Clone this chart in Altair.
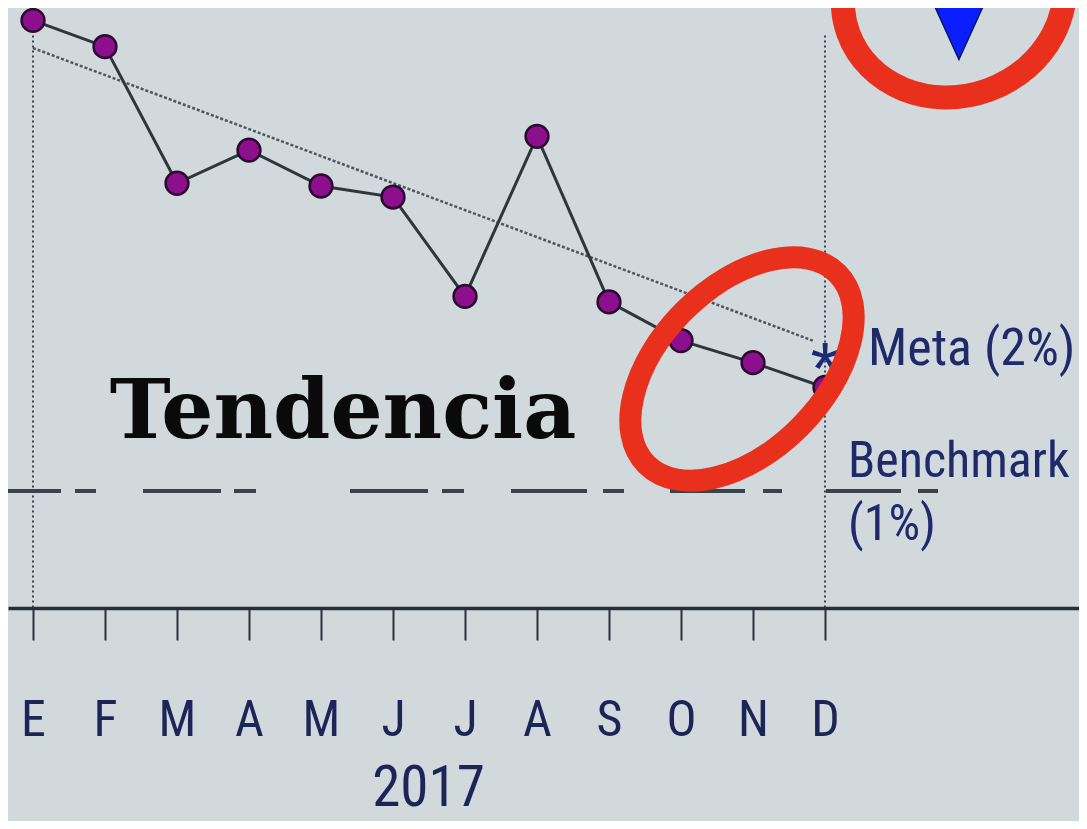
import altair as alt
import pandas as pd

# ---- data ----
months = ["E", "F", "M", "A", "M", "J", "J", "A", "S", "O", "N", "D"]
values = [4.41, 4.22, 3.23, 3.47, 3.21, 3.13, 2.41, 3.57, 2.37, 2.09, 1.93, 1.75]
year = "2017"
trend_x = [0, 10.83]
trend_y = [4.21, 2.09]
meta_value = 2.0
benchmark_value = 1.0
meta_label = "Meta (2%)"
benchmark_label = ["Benchmark", "(1%)"]
annotation_text = "Tendencia"

idx = list(range(len(months)))

# ---- layout / scale settings ----
W, H = 1071, 600
X_DOMAIN = [-25 / 72, (1071 - 25) / 72]
Y_DOMAIN = [0.152, 4.5]
FONT = "Liberation Sans Narrow, Roboto Condensed, DejaVu Sans Condensed, Liberation Sans"
NAVY = "#1d2557"
BG = "#d1d9dd"
RED = "#e8301c"
BENCH_DASH = [53, 14, 21, 47, 78, 13, 22, 94, 78, 14, 22, 47, 76, 16, 21, 46,
              75, 18, 19, 44, 75, 17, 20, 200]

label_expr = "[" + ",".join("'%s'" % m for m in months) + "][datum.value]"

def X(field):
    return alt.X(
        field + ":Q",
        scale=alt.Scale(domain=X_DOMAIN, nice=False, zero=False),
        axis=alt.Axis(
            values=idx, labelExpr=label_expr, title=year, grid=False,
            domain=True, domainColor="#263038", domainWidth=3.5,
            ticks=True, tickColor="#263038", tickWidth=2, tickSize=32,
            labelFont=FONT, labelFontSize=50, labelColor=NAVY,
            labelPadding=95, labelBaseline="alphabetic", labelFlush=False,
            labelOverlap=False, labelAngle=0,
            titleFont=FONT, titleFontSize=57, titleFontWeight="normal",
            titleColor=NAVY, titleX=420, titleY=197,
            titleBaseline="alphabetic", titleAlign="center",
        ),
    )

def Y(field):
    return alt.Y(field + ":Q", scale=alt.Scale(domain=Y_DOMAIN, nice=False, zero=False), axis=None)

df = pd.DataFrame({"i": idx, "m": months, "v": values})

bench = alt.Chart(pd.DataFrame({"x": [X_DOMAIN[0]], "x2": [12.625], "y": [benchmark_value]})).mark_rule(
    color="#39434b", strokeWidth=4, strokeDash=BENCH_DASH
).encode(x=X("x"), x2="x2", y=Y("y"))

vlines = alt.Chart(pd.DataFrame({"x": [idx[0], idx[-1]], "y": [4.3, 4.3]})).mark_rule(
    color="#3a4550", strokeWidth=2, strokeDash=[2, 3]
).encode(x=X("x"), y=Y("y"), y2=alt.value(H))

trend = alt.Chart(pd.DataFrame({"x": trend_x, "y": trend_y})).mark_line(
    color="#4b565e", strokeWidth=2.5, strokeDash=[3, 2]
).encode(x=X("x"), y=Y("y"))

line = alt.Chart(df).mark_line(color="#2d363b", strokeWidth=3).encode(x=X("i"), y=Y("v"), order="i:Q")

points = alt.Chart(df).mark_circle(
    size=520, color="#8c0f8e", stroke="#2a0b2e", strokeWidth=2.5, opacity=1
).encode(x=X("i"), y=Y("v"))

aster = alt.Chart(pd.DataFrame({"x": [idx[-1]], "y": [meta_value], "t": ["*"]})).mark_text(
    font="Liberation Sans", fontSize=75, color="#1d2a78", align="center", baseline="alphabetic", dy=41
).encode(x=X("x"), y=Y("y"), text="t:N")

meta = alt.Chart(pd.DataFrame({"x": [idx[-1]], "y": [meta_value], "t": [meta_label]})).mark_text(
    font=FONT, fontSize=52, color="#202a6a", align="left", baseline="alphabetic", dx=43, dy=12
).encode(x=X("x"), y=Y("y"), text="t:N")

benchtxt = alt.Chart(pd.DataFrame({"x": [idx[-1]], "y": [benchmark_value], "t": [benchmark_label]})).mark_text(
    font=FONT, fontSize=50, color="#202a6a", align="left", baseline="alphabetic", dx=23, dy=-14, lineHeight=63
).encode(x=X("x"), y=Y("y"), text="t")

tend = alt.Chart(pd.DataFrame({"x": [4.306], "y": [1.384], "t": [annotation_text]})).mark_text(
    font="DejaVu Serif", fontWeight="bold", fontSize=82, color="#0a0a0a", align="center", baseline="alphabetic"
).encode(x=X("x"), y=Y("y"), text="t:N")

k = 0.5523
def ellipse_path(e):
    return (
        f"M1,0 C1,{e*k:.4f} {k},{e:.4f} 0,{e:.4f} "
        f"C{-k},{e:.4f} -1,{e*k:.4f} -1,0 "
        f"C-1,{-e*k:.4f} {-k},{-e:.4f} 0,{-e:.4f} "
        f"C{k},{-e:.4f} 1,{-e*k:.4f} 1,0 Z"
    )

ring1 = alt.Chart(pd.DataFrame({"x": [9.847], "y": [1.884]})).mark_point(
    shape=ellipse_path(0.607), size=72900, angle=315, filled=False, color=RED, strokeWidth=22, opacity=1
).encode(x=X("x"), y=Y("y"))

ring2 = alt.Chart(pd.DataFrame({"x": [12.79], "y": [4.594]})).mark_point(
    shape=ellipse_path(0.9), size=50400, angle=340, filled=False, color=RED, strokeWidth=24, opacity=1
).encode(x=X("x"), y=Y("y"))

tri = alt.Chart(pd.DataFrame({"x": [12.86], "y": [4.507]})).mark_point(
    shape="M-0.91,-1L0.91,-1L0,1Z", size=11000, filled=True, fill="#0a1eff", stroke="#0a1560",
    strokeWidth=1.5, opacity=1
).encode(x=X("x"), y=Y("y"))

chart = alt.layer(
    bench, vlines, trend, line, points, aster, meta, benchtxt, tend, tri, ring1, ring2
).properties(
    width=W, height=H, background=BG,
    padding={"left": 0, "top": 0, "right": 0, "bottom": 213},
    autosize=alt.AutoSizeParams(type="none"),
).configure_view(stroke=None)

chart.save("out.html", embed_options={"renderer": "svg", "actions": False})
